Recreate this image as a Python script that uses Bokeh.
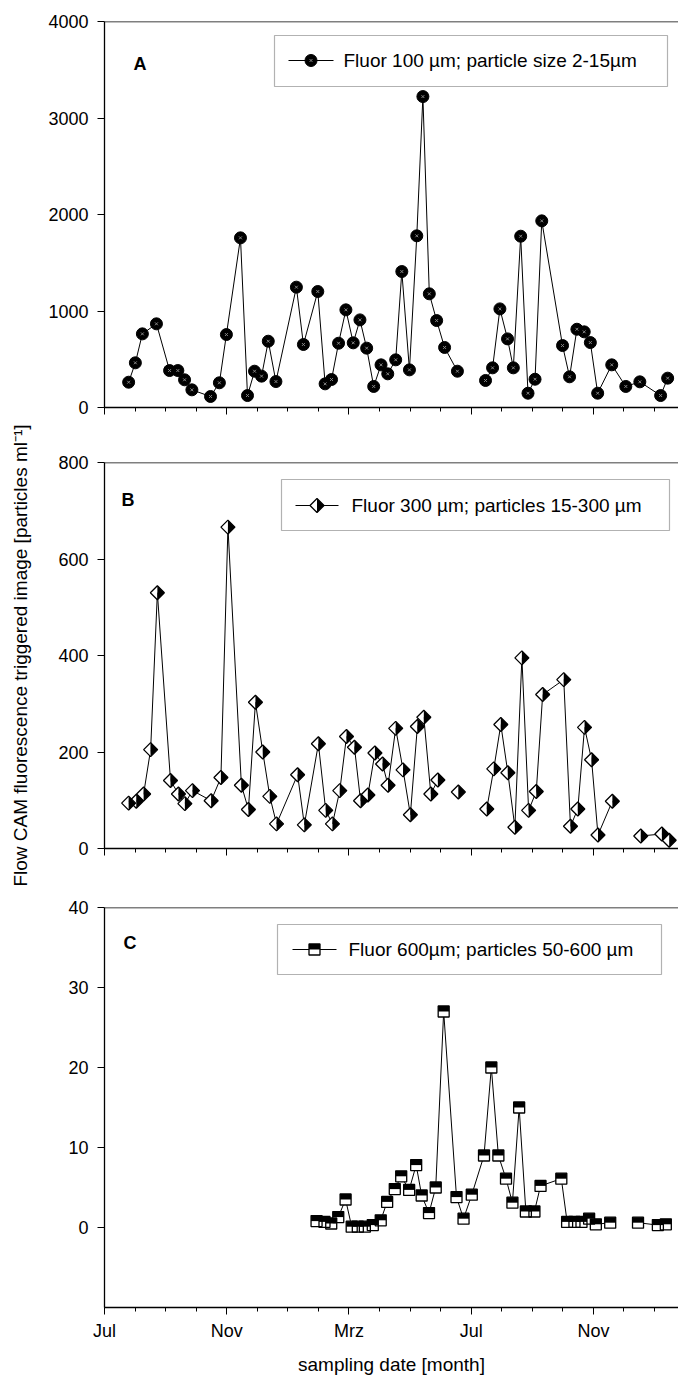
import numpy as np
from bokeh.plotting import figure
from bokeh.models import Range1d, FixedTicker, Span, Label, BoxAnnotation
from bokeh.layouts import column, row
from bokeh.embed import file_html
from bokeh.resources import INLINE

FONT = "Liberation Sans"

# ---------------- data ----------------
# x: sampling date as months since 1 July of the first year
MONTH_TICKS = [0, 4, 8, 12, 16]
MONTH_LABELS = ["Jul", "Nov", "Mrz", "Jul", "Nov"]
MINOR_TICKS = list(range(0, 19))

a_month = [0.79, 1.01, 1.24, 1.70, 2.13, 2.40, 2.62, 2.86, 3.47, 3.76, 3.99, 4.45, 4.68, 4.91,
           5.14, 5.36, 5.61, 6.28, 6.51, 6.98, 7.22, 7.43, 7.66, 7.90, 8.14, 8.36, 8.58, 8.81,
           9.05, 9.27, 9.53, 9.73, 9.98, 10.22, 10.42, 10.63, 10.87, 11.13, 11.55, 12.47, 12.70,
           12.94, 13.19, 13.38, 13.62, 13.86, 14.09, 14.31, 14.99, 15.22, 15.46, 15.70, 15.90,
           16.14, 16.60, 17.06, 17.52, 18.20, 18.43]
a_count = [262, 463, 763, 867, 383, 383, 287, 183, 114, 256, 756, 1758, 124, 376, 325, 687, 269,
           1247, 653, 1202, 245, 290, 666, 1012, 670, 908, 615, 218, 442, 349, 494, 1409, 390,
           1779, 3222, 1178, 901, 622, 376, 280, 411, 1022, 711, 411, 1775, 148, 293, 1934, 642,
           318, 811, 784, 673, 148, 442, 218, 266, 124, 304]
a_breaks = [39]

b_month = [0.79, 1.04, 1.28, 1.51, 1.73, 2.16, 2.42, 2.63, 2.88, 3.49, 3.81, 4.04, 4.48, 4.71,
           4.94, 5.18, 5.41, 5.63, 6.32, 6.54, 7.00, 7.24, 7.46, 7.70, 7.92, 8.18, 8.38, 8.62,
           8.85, 9.10, 9.28, 9.53, 9.77, 10.01, 10.24, 10.45, 10.68, 10.91, 11.58, 12.51, 12.74,
           12.97, 13.20, 13.43, 13.66, 13.88, 14.13, 14.34, 15.03, 15.25, 15.49, 15.71, 15.94,
           16.15, 16.62, 17.55, 18.24, 18.48]
b_count = [94, 98, 113, 205, 530, 141, 113, 93, 120, 99, 147, 666, 131, 81, 303, 200, 108, 51,
           153, 49, 217, 79, 51, 120, 232, 210, 99, 111, 198, 175, 131, 249, 163, 70, 253, 272,
           113, 142, 117, 82, 165, 257, 157, 44, 395, 79, 118, 319, 350, 46, 82, 251, 184, 28,
           98, 26, 30, 17]
b_breaks = [38, 39, 55]

c_month = [6.94, 7.20, 7.42, 7.65, 7.89, 8.09, 8.29, 8.52, 8.78, 9.04, 9.25, 9.50, 9.71, 9.97,
           10.20, 10.38, 10.62, 10.84, 11.10, 11.52, 11.75, 12.02, 12.42, 12.66, 12.89, 13.14,
           13.35, 13.57, 13.79, 14.07, 14.27, 14.95, 15.14, 15.38, 15.61, 15.86, 16.08, 16.55,
           17.46, 18.11, 18.37]
c_count = [0.8, 0.7, 0.5, 1.3, 3.5, 0.1, 0.1, 0.1, 0.3, 0.9, 3.2, 4.8, 6.4, 4.7, 7.8, 4.0, 1.8,
           5.0, 27.0, 3.8, 1.1, 4.1, 9.0, 20.0, 9.0, 6.1, 3.1, 15.0, 2.0, 2.0, 5.2, 6.1, 0.7,
           0.7, 0.7, 1.1, 0.4, 0.6, 0.6, 0.3, 0.4]
c_breaks = [38]

LEGEND_A = "Fluor 100 µm; particle size 2-15µm"
LEGEND_B = "Fluor 300 µm; particles 15-300 µm"
LEGEND_C = "Fluor 600µm; particles 50-600 µm"
Y_TITLE = "Flow CAM fluorescence triggered image [particles ml⁻¹]"
X_TITLE = "sampling date [month]"

# ---------------- layout ----------------
FRAME_W = 574
XEND = 18.785
LABEL_W = 40
TOTAL_H = 1376


def with_breaks(xs, ys, breaks):
    xs = np.array(xs, dtype=float)
    ys = np.array(ys, dtype=float)
    for b in sorted(breaks, reverse=True):
        xs = np.insert(xs, b, np.nan)
        ys = np.insert(ys, b, np.nan)
    return xs, ys


class Panel:
    def __init__(self, ymin, ymax, yticks, frame_h, top, bottom, show_x):
        self.ymin, self.ymax, self.frame_h = ymin, ymax, frame_h
        p = figure(frame_width=FRAME_W, frame_height=frame_h, title=None,
                   x_range=Range1d(0, XEND), y_range=Range1d(ymin, ymax),
                   output_backend="svg", toolbar_location=None,
                   min_border_left=104 - LABEL_W, min_border_right=0,
                   min_border_top=top, min_border_bottom=bottom)
        p.grid.visible = False
        p.outline_line_color = None
        p.background_fill_color = "white"
        p.border_fill_color = "white"
        xa, ya = p.xaxis[0], p.yaxis[0]
        for ax in (xa, ya):
            ax.axis_line_color = "black"
            ax.axis_line_width = 1.3
            ax.major_tick_line_color = "black"
            ax.minor_tick_line_color = "black"
            ax.major_tick_in = 0
            ax.major_tick_out = 7
            ax.minor_tick_in = 0
            ax.minor_tick_out = 4
            ax.major_label_text_font = FONT
            ax.major_label_text_font_size = "18px"
            ax.major_label_text_color = "black"
            ax.axis_label_text_font = FONT
            ax.axis_label_text_font_size = "19px"
            ax.axis_label_text_font_style = "normal"
            ax.axis_label_text_color = "black"
        xa.ticker = FixedTicker(ticks=MONTH_TICKS, minor_ticks=MINOR_TICKS)
        xa.major_label_overrides = {t: l for t, l in zip(MONTH_TICKS, MONTH_LABELS)}
        xa.major_label_standoff = 6
        if not show_x:
            xa.major_label_text_font_size = "1px"
            xa.major_label_text_color = None
        ya.ticker = FixedTicker(ticks=yticks, minor_ticks=[])
        ya.minor_tick_line_color = None
        ya.major_label_standoff = 9
        p.add_layout(Span(location=ymax, dimension="width", line_color="black", line_width=1.3))
        self.p = p

    # pixel (relative to frame top-left) -> data
    def kx(self, px):
        return px * XEND / FRAME_W

    def ky(self, px):
        return px * (self.ymax - self.ymin) / self.frame_h

    def dxy(self, sx, sy):
        return self.kx(sx), self.ymax - self.ky(sy)

    def letter(self, text, sx, sy):
        x, y = self.dxy(sx, sy)
        self.p.add_layout(Label(x=x, y=y, text=text, text_font=FONT, text_font_size="18px",
                                text_font_style="bold", text_color="black",
                                text_baseline="alphabetic"))

    def legend(self, text, left, right, top, bottom, line_x0, line_x1, cy, text_x, marker_fn):
        l, t = self.dxy(left, top)
        r, b = self.dxy(right, bottom)
        self.p.add_layout(BoxAnnotation(left=l, right=r, top=t, bottom=b, fill_color="white",
                                        fill_alpha=1, line_color="black", line_width=1.2,
                                        level="annotation"))
        x0, y0 = self.dxy(line_x0, cy)
        x1, _ = self.dxy(line_x1, cy)
        self.p.line([x0, x1], [y0, y0], line_color="black", line_width=1, level="overlay")
        mx, _ = self.dxy((line_x0 + line_x1) / 2, cy)
        marker_fn(self, [mx], [y0], level="overlay")
        tx, _ = self.dxy(text_x, cy)
        self.p.add_layout(Label(x=tx, y=y0, text=text, text_font=FONT, text_font_size="19px",
                                text_color="black", text_baseline="middle", level="overlay"))


def marker_a(pn, xs, ys, level="glyph"):
    pn.p.scatter(xs, ys, marker="circle", size=12, fill_color="black", line_color="black",
                 line_width=1, level=level)
    pn.p.scatter(xs, ys, marker="x", size=4, line_color="#8a8a8a", line_width=1, level=level)


def marker_b(pn, xs, ys, level="glyph"):
    dX, dY = pn.kx(7), pn.ky(7)
    lx = [[x, x - dX, x] for x in xs]
    rx = [[x, x + dX, x] for x in xs]
    yy = [[y + dY, y, y - dY] for y in ys]
    fx = [[x, x + dX, x, x - dX] for x in xs]
    fy = [[y + dY, y, y - dY, y] for y in ys]
    pn.p.patches(lx, yy, fill_color="white", line_color=None, level=level)
    pn.p.patches(rx, yy, fill_color="black", line_color=None, level=level)
    pn.p.patches(fx, fy, fill_color=None, line_color="black", line_width=1.3, level=level)


def marker_c(pn, xs, ys, level="glyph"):
    hX, hY = pn.kx(5.5), pn.ky(5.5)
    xs = np.array(xs, dtype=float)
    ys = np.array(ys, dtype=float)
    pn.p.quad(left=xs - hX, right=xs + hX, bottom=ys - hY, top=ys + hY, fill_color="white",
              line_color=None, level=level)
    pn.p.quad(left=xs - hX, right=xs + hX, bottom=ys, top=ys + hY, fill_color="black",
              line_color=None, level=level)
    pn.p.quad(left=xs - hX, right=xs + hX, bottom=ys - hY, top=ys + hY, fill_color=None,
              line_color="black", line_width=1.3, level=level)


# Panel A
A = Panel(0, 4000, [0, 1000, 2000, 3000, 4000], 386, 21, 25, False)
lx, ly = with_breaks(a_month, a_count, a_breaks)
A.p.line(lx, ly, line_color="black", line_width=1)
marker_a(A, a_month, a_count)
A.letter("A", 29, 42)
A.legend(LEGEND_A, 170, 563, 14, 65, 184, 229, 39, 239, marker_a)

# Panel B
B = Panel(0, 800, [0, 200, 400, 600, 800], 386, 30, 25, False)
lx, ly = with_breaks(b_month, b_count, b_breaks)
B.p.line(lx, ly, line_color="black", line_width=1)
marker_b(B, b_month, b_count)
B.letter("B", 17, 37)
B.legend(LEGEND_B, 177, 565, 17, 68, 191, 234, 43, 247, marker_b)

# Panel C
C = Panel(-10, 40, [0, 10, 20, 30, 40], 400, 34, 67, True)
lx, ly = with_breaks(c_month, c_count, c_breaks)
C.p.line(lx, ly, line_color="black", line_width=1)
marker_c(C, c_month, c_count)
C.letter("C", 19, 35)
C.legend(LEGEND_C, 173, 557, 17, 67, 188, 232, 42, 244, marker_c)
C.p.xaxis[0].axis_label = X_TITLE
C.p.xaxis[0].axis_label_standoff = 10

# shared y-axis title in its own narrow strip on the left
T = figure(frame_width=LABEL_W, frame_height=TOTAL_H, title=None,
           x_range=Range1d(0, LABEL_W), y_range=Range1d(0, TOTAL_H),
           x_axis_location=None, y_axis_location=None,
           output_backend="svg", toolbar_location=None,
           min_border_left=0, min_border_right=0, min_border_top=0, min_border_bottom=0)
T.grid.visible = False
T.outline_line_color = None
T.border_fill_color = "white"
T.add_layout(Label(x=20, y=TOTAL_H - 655, text=Y_TITLE, angle=np.pi / 2, text_font=FONT,
                   text_font_size="19px", text_color="black", text_align="center",
                   text_baseline="middle"))

layout = row(T, column(A.p, B.p, C.p, spacing=0), spacing=0)
open("out.html", "w").write(file_html(layout, INLINE))
